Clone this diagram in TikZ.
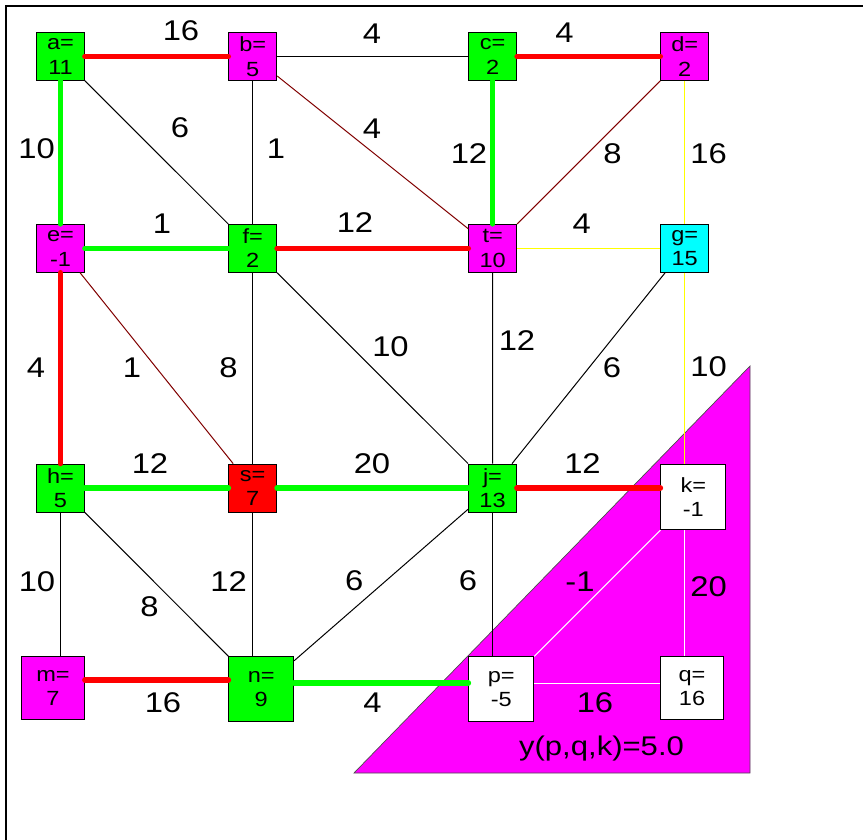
\documentclass[tikz,border=0pt]{standalone}
\usepackage{fontspec}
\setmainfont{Liberation Sans}[FakeStretch=1.15]
\definecolor{vgreen}{RGB}{0,255,0}
\definecolor{vmag}{RGB}{255,0,255}
\definecolor{vcyan}{RGB}{0,255,255}
\definecolor{vred}{RGB}{255,0,0}
\definecolor{vbrown}{RGB}{128,0,0}
\definecolor{vyellow}{RGB}{255,255,0}

\begin{document}
\begin{tikzpicture}[x=1pt,y=-1pt,
  vert/.style={draw=black,line width=0.8pt,minimum size=48pt,inner sep=0pt,align=center,font=\fontsize{20.5}{24.5}\selectfont},
  bigvert/.style={vert,minimum size=65pt},
  midvert/.style={vert,minimum size=63pt},
  wt/.style={inner sep=0pt,font=\fontsize{28.5}{28.5}\selectfont},
  edge/.style={line width=1pt},
  tree/.style={line width=5.5pt,line cap=round}]
\useasboundingbox (0,0) rectangle (863,840);
\draw[line width=1.2pt] (6,840)--(6,6)--(863,6);
\fill[vmag,draw=black!70,line width=0.7pt] (354,773)--(750,366)--(750,773)--cycle;
\node[vert,fill=vgreen] (a) at (60.5,56.5) {a=\\11};
\node[vert,fill=vmag] (b) at (252.7,56.5) {b=\\5};
\node[vert,fill=vgreen] (c) at (492.7,56.5) {c=\\2};
\node[vert,fill=vmag] (d) at (684.7,56.5) {d=\\2};
\node[vert,fill=vmag] (e) at (60.5,248.3) {e=\\-1};
\node[vert,fill=vgreen] (f) at (252.7,248.3) {f=\\2};
\node[vert,fill=vmag] (t) at (492.7,248.3) {t=\\10};
\node[vert,fill=vcyan] (g) at (684.7,248.3) {g=\\15};
\node[vert,fill=vgreen] (h) at (60.5,488) {h=\\5};
\node[vert,fill=vred] (s) at (252.7,488) {s=\\7};
\node[vert,fill=vgreen] (j) at (492.5,488) {j=\\13};
\node[bigvert,fill=white] (k) at (693.3,497.2) {k=\\-1};
\node[midvert,fill=vmag] (m) at (53,688) {m=\\7};
\node[bigvert,fill=vgreen] (n) at (261.3,689.3) {n=\\9};
\node[bigvert,fill=white] (p) at (501.3,689.3) {p=\\-5};
\node[midvert,fill=white] (q) at (692,688) {q=\\16};
\draw[tree,vred] (a)--(b);
\draw[edge] (b)--(c);
\draw[tree,vred] (c)--(d);
\draw[tree,vgreen] (a)--(e);
\draw[edge] (a)--(f);
\draw[edge] (b)--(f);
\draw[edge,vbrown] (b)--(t);
\draw[tree,vgreen] (c)--(t);
\draw[edge,vbrown] (d)--(t);
\draw[edge,vyellow] (d)--(g);
\draw[tree,vgreen] (e)--(f);
\draw[tree,vred] (f)--(t);
\draw[edge,vyellow] (t)--(g);
\draw[tree,vred] (e)--(h);
\draw[edge,vbrown] (e)--(s);
\draw[edge] (f)--(s);
\draw[edge] (f)--(j);
\draw[edge] (t)--(j);
\draw[edge] (g)--(j);
\draw[edge,vyellow] (g)--(g |- k.north);
\draw[tree,vgreen] (h)--(s);
\draw[tree,vgreen] (s)--(j);
\draw[tree,vred] (j)--(j -| k.west);
\draw[edge] (h)--(h |- m.north);
\draw[edge] (h)--(n);
\draw[edge] (s)--(s |- n.north);
\draw[edge] (j)--(n);
\draw[edge] (j)--(j |- p.north);
\draw[edge,white] (k)--(p);
\draw[edge,white] (g |- k.south)--(g |- q.north);
\draw[tree,vred] ([yshift=8]m.east)--([yshift=9.3]n.west);
\draw[tree,vgreen] ([yshift=6.3]n.east)--([yshift=6.3]p.west);
\draw[edge,white] ([yshift=6]p.east)--([yshift=4.7]q.west);
\node[wt] (wab) at (181,31) {16};
\node[wt] (wbc) at (372,33.5) {4};
\node[wt] (wcd) at (564.5,33) {4};
\node[wt] (wae) at (36.7,149) {10};
\node[wt] (waf) at (180,127.5) {6};
\node[wt] (wbf) at (276,149) {1};
\node[wt] (wbt) at (372,129) {4};
\node[wt] (wct) at (469,154) {12};
\node[wt] (wdt) at (612.5,154) {8};
\node[wt] (wdg) at (708.5,154) {16};
\node[wt] (wef) at (162,224) {1};
\node[wt] (wft) at (355,222.5) {12};
\node[wt] (wtg) at (581.7,224) {4};
\node[wt] (weh) at (36,368) {4};
\node[wt] (wes) at (132,368) {1};
\node[wt] (wfs) at (228.5,368) {8};
\node[wt] (wfj) at (390.5,346.5) {10};
\node[wt] (wtj) at (517,341) {12};
\node[wt] (wgj) at (612,367.5) {6};
\node[wt] (wgk) at (708.5,367) {10};
\node[wt] (whs) at (150,463.5) {12};
\node[wt] (wsj) at (372,463.5) {20};
\node[wt] (wjk) at (582.5,463.5) {12};
\node[wt] (whm) at (37,581.7) {10};
\node[wt] (whn) at (149.5,607) {8};
\node[wt] (wsn) at (228.7,581.7) {12};
\node[wt] (wjn) at (354.3,581) {6};
\node[wt] (wjp) at (468,581) {6};
\node[wt] (wkp) at (580,582) {-1};
\node[wt] (wkq) at (708.5,587) {20};
\node[wt] (wmn) at (163,703) {16};
\node[wt] (wnp) at (372.5,703) {4};
\node[wt] (wpq) at (595,702.5) {16};
\node[inner sep=0pt,font=\fontsize{27}{27}\selectfont] (res) at (601.5,749) {y(p,q,k)=5.0};
\end{tikzpicture}
\end{document}
